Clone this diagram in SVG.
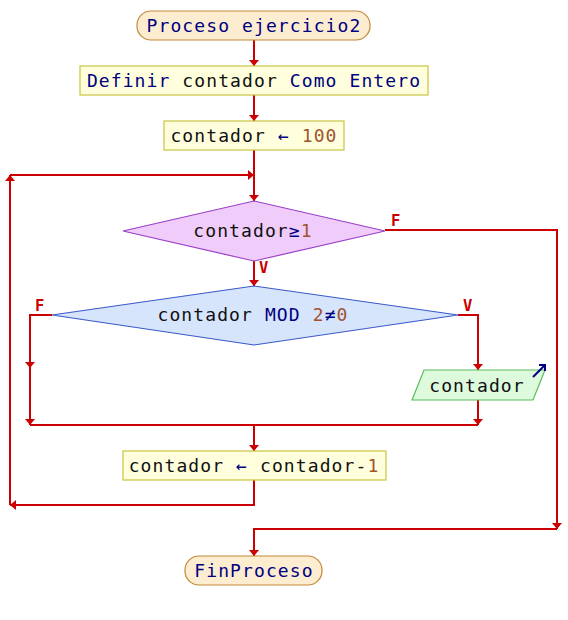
<svg xmlns="http://www.w3.org/2000/svg" width="568" height="620" viewBox="0 0 568 620">
<defs>
<style>
.t{font-family:"DejaVu Sans Mono","Liberation Mono",monospace;font-size:18px;letter-spacing:1.1px;text-anchor:middle;fill:#111}
.kw{fill:#000080}
.num{fill:#a0522d}
.lbl{font-family:"DejaVu Sans Mono","Liberation Mono",monospace;font-size:15.5px;font-weight:bold;fill:#cc0000}
.term{fill:#fdedd0;stroke:#c08838;stroke-width:1.2}
.proc{fill:#ffffdd;stroke:#c8c440;stroke-width:1.2}
.c{fill:none;stroke:#cc0000;stroke-width:2}
</style>
<marker id="ah" viewBox="0 0 6 10" refX="6" refY="5" markerWidth="6" markerHeight="10" markerUnits="userSpaceOnUse" orient="auto">
<path d="M0,0 L6,5 L0,10 z" fill="#cc0000"/>
</marker>
</defs>
<rect width="568" height="620" fill="#ffffff"/>
<g id="connectors">
<path class="c" d="M254,40 V66" marker-end="url(#ah)"/>
<path class="c" d="M254,95 V121" marker-end="url(#ah)"/>
<path class="c" d="M254,150 V201" marker-end="url(#ah)"/>
<path class="c" d="M254,261 V286" marker-end="url(#ah)"/>
<path class="c" d="M385,230 H557 V529" marker-end="url(#ah)"/>
<path class="c" d="M557,529 H254 V556" marker-end="url(#ah)"/>
<path class="c" d="M52,315 H30 V368" marker-end="url(#ah)"/>
<path class="c" d="M30,367 V425" marker-end="url(#ah)"/>
<path class="c" d="M458,315 H478 V370" marker-end="url(#ah)"/>
<path class="c" d="M478,400 V425" marker-end="url(#ah)"/>
<path class="c" d="M30,425 H478"/>
<path class="c" d="M254,425 V451" marker-end="url(#ah)"/>
<path class="c" d="M254,480 V505 H10" marker-end="url(#ah)"/>
<path class="c" d="M10,505 V175" marker-end="url(#ah)"/>
<path class="c" d="M10,175 H254" marker-end="url(#ah)"/>
<text class="lbl" x="391" y="226">F</text>
<text class="lbl" x="259" y="273">V</text>
<text class="lbl" x="35" y="311">F</text>
<text class="lbl" x="463" y="311">V</text>
</g>
<g id="start">
<rect class="term" x="137" y="11" width="233" height="29" rx="14" ry="14"/>
<text class="t kw" x="254" y="32">Proceso ejercicio2</text>
</g>
<g id="define">
<rect class="proc" x="80" y="66" width="348" height="29"/>
<text class="t" x="254" y="87"><tspan class="kw">Definir</tspan> contador <tspan class="kw">Como Entero</tspan></text>
</g>
<g id="assign1">
<rect class="proc" x="164" y="121" width="180" height="29"/>
<text class="t" x="254" y="142">contador <tspan class="kw">←</tspan> <tspan class="num">100</tspan></text>
</g>
<g id="while">
<polygon points="254,201 385,231 254,261 123,231" fill="#f0ccfa" stroke="#9a3fc8" stroke-width="1.2"/>
<text class="t" x="253" y="237">contador<tspan class="kw">≥</tspan><tspan class="num">1</tspan></text>
</g>
<g id="if">
<polygon points="254,286 458,315 254,345 52,315" fill="#d6e4fc" stroke="#3a58c8" stroke-width="1.2"/>
<text class="t" x="253" y="321">contador <tspan class="kw">MOD</tspan> <tspan class="num">2</tspan><tspan class="kw">≠</tspan><tspan class="num">0</tspan></text>
</g>
<g id="output">
<polygon points="424,370 545,370 533,400 412,400" fill="#ddfadd" stroke="#5cbc5c" stroke-width="1.2"/>
<text class="t" x="477" y="392">contador</text>
<path d="M533,377 L545,365 M539,365 H545 V371" fill="none" stroke="#000080" stroke-width="2"/>
</g>
<g id="assign2">
<rect class="proc" x="123" y="451" width="263" height="29"/>
<text class="t" x="254" y="472">contador <tspan class="kw">←</tspan> contador-<tspan class="num">1</tspan></text>
</g>
<g id="end">
<rect class="term" x="185" y="556" width="137" height="29" rx="14" ry="14"/>
<text class="t kw" x="254" y="577">FinProceso</text>
</g>
</svg>
